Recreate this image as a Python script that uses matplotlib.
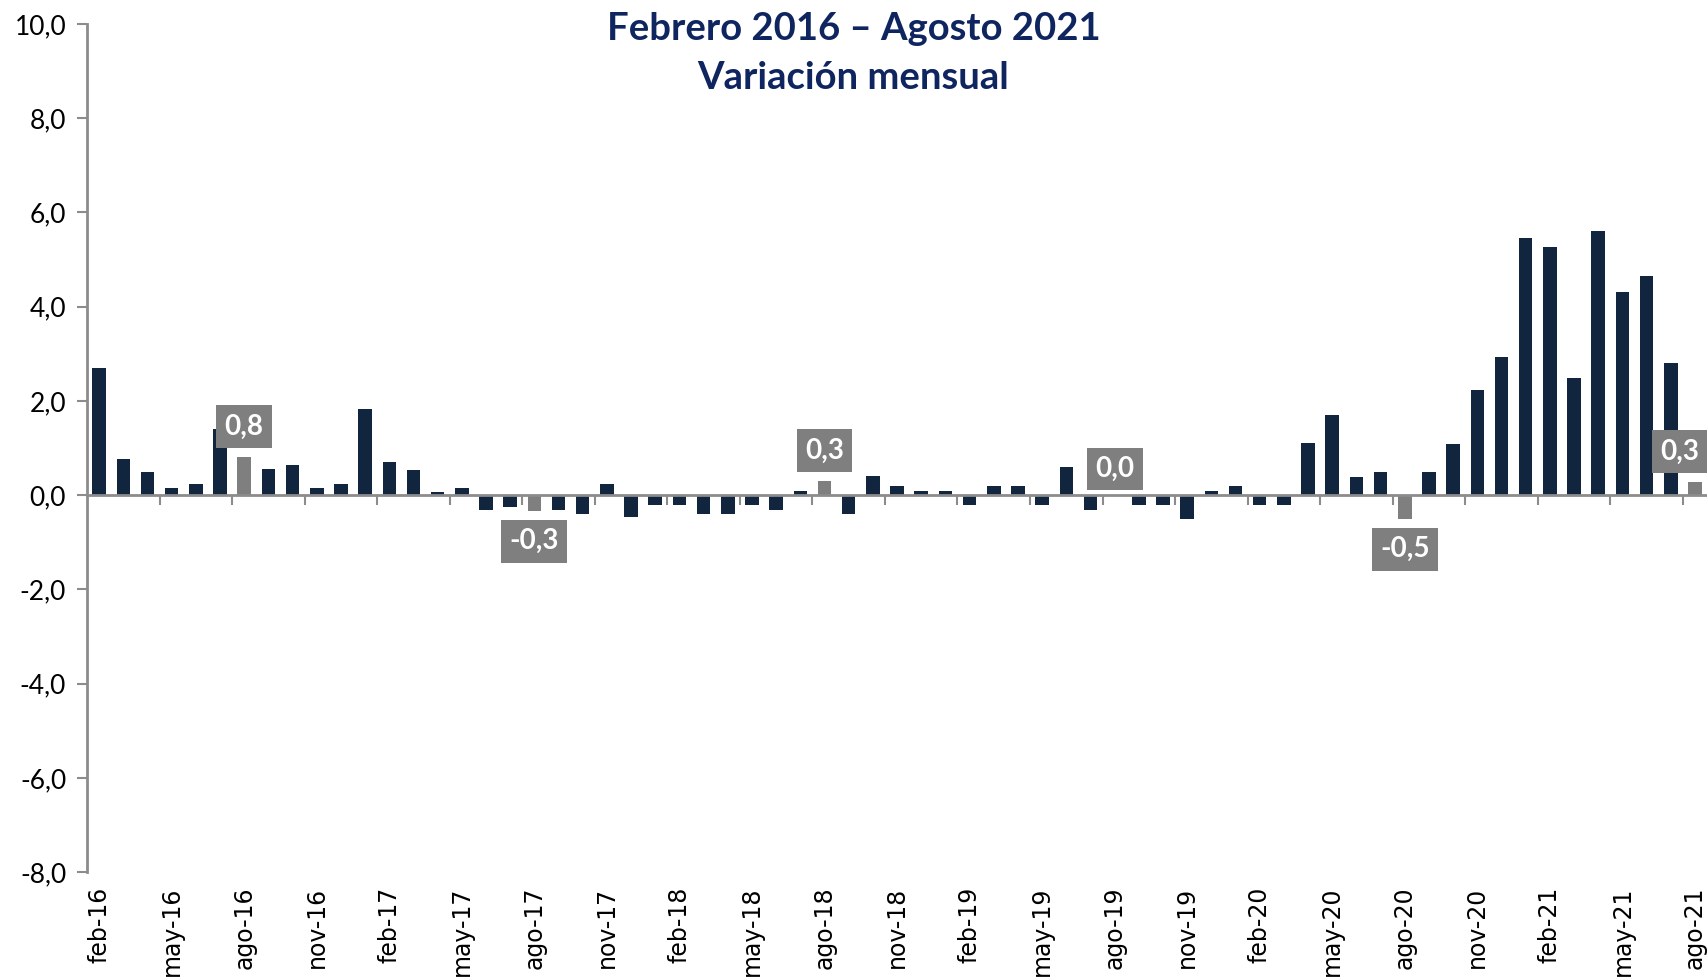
import numpy as np
import matplotlib.pyplot as plt

plt.rcParams['font.family'] = ['Lato', 'DejaVu Sans']

# monthly variation, feb-16 .. ago-21
months = ['ene', 'feb', 'mar', 'abr', 'may', 'jun', 'jul', 'ago', 'sep', 'oct', 'nov', 'dic']
labels = []
for yr in range(16, 22):
    for m in months:
        labels.append(f"{m}-{yr}")
labels = labels[1:labels.index('ago-21') + 1]

v2016 = [2.69, 0.76, 0.49, 0.16, 0.24, 1.41, 0.81, 0.56, 0.64, 0.16, 0.23]
v2017 = [1.83, 0.70, 0.54, 0.07, 0.15, -0.32, -0.24, -0.33, -0.32, -0.40, 0.23, -0.47]
v2018 = [-0.21, -0.21, -0.40, -0.40, -0.21, -0.31, 0.08, 0.30, -0.40, 0.40, 0.20, 0.09]
v2019 = [0.09, -0.21, 0.20, 0.20, -0.21, 0.60, -0.31, 0.0, -0.21, -0.21, -0.50, 0.09]
v2020 = [0.20, -0.20, -0.20, 1.11, 1.71, 0.39, 0.49, -0.50, 0.49, 1.08, 2.23, 2.94]
v2021 = [5.45, 5.26, 2.49, 5.60, 4.31, 4.65, 2.81, 0.28]
values = v2016 + v2017 + v2018 + v2019 + v2020 + v2021

# highlighted labels: text, x offset (pt), y offset (pt)
highlight = {'ago-16': ('0,8', 0, 22), 'ago-17': ('-0,3', 0, -22),
             'ago-18': ('0,3', 0, 22), 'ago-19': ('0,0', 0, 19),
             'ago-20': ('-0,5', 0, -22), 'ago-21': ('0,3', -11, 22)}

navy = '#12253F'
gray = '#7F7F7F'
axgray = '#8C8C8C'

x = np.arange(len(values))
colors = [gray if l in highlight else navy for l in labels]

fig = plt.figure(figsize=(17.07, 9.8), dpi=100)
ax = fig.add_axes([0.051, 0.110, 0.949, 0.8655])

ax.bar(x, values, width=0.56, color=colors, zorder=2)

ax.set_xlim(-0.5, len(values) - 0.5)
ax.set_ylim(-8, 10)
ax.set_yticks(np.arange(-8, 10.1, 2))
ax.set_yticklabels([f"{v:.1f}".replace('.', ',') for v in np.arange(-8, 10.1, 2)], fontsize=19)

# x axis at zero
ax.spines['bottom'].set_position(('data', 0))
ax.spines['bottom'].set_color(axgray)
ax.spines['bottom'].set_linewidth(2)
ax.spines['left'].set_color(axgray)
ax.spines['left'].set_linewidth(2)
ax.spines['top'].set_visible(False)
ax.spines['right'].set_visible(False)
ax.tick_params(axis='y', colors=axgray, length=7, width=1.5, labelcolor='black', pad=8)

# labels every 3 months, tick marks at category boundaries
ax.set_xticks(x[::3])
ax.set_xticklabels([], minor=False)
ax.set_xticks(np.arange(2.5, len(values), 3), minor=True)
ax.tick_params(axis='x', which='major', length=0)
ax.tick_params(axis='x', which='minor', length=7, width=1.5, color=axgray)
for i in x[::3]:
    ax.text(i, -0.017, labels[i], transform=ax.get_xaxis_transform(), rotation=90,
            ha='center', va='top', fontsize=17, family='DejaVu Sans')

for lab, (txt, dx, dy) in highlight.items():
    i = labels.index(lab)
    ax.annotate(txt, xy=(i, values[i]), xytext=(dx, dy), textcoords='offset points',
                ha='center', va='center', color='white', fontsize=20, fontweight='bold',
                bbox=dict(boxstyle='square,pad=0.3', fc=gray, ec='none'), zorder=3)

fig.text(0.5, 0.970, 'Febrero 2016 – Agosto 2021', ha='center', va='center',
         fontsize=27.5, fontweight='bold', color='#0F2560')
fig.text(0.5, 0.920, 'Variación mensual', ha='center', va='center',
         fontsize=27.5, fontweight='bold', color='#0F2560')

fig.savefig('out.png', dpi=100)
